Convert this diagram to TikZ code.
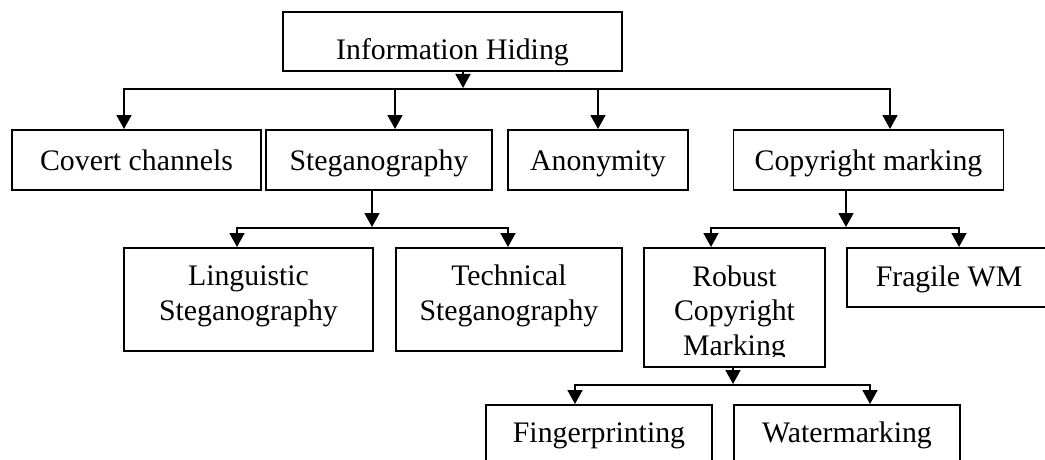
\documentclass[tikz,border=0pt]{standalone}
\usepackage{fontspec}
\setmainfont{Liberation Serif}
\usetikzlibrary{arrows.meta}
\begin{document}
\begin{tikzpicture}[x=1pt,y=-1pt,
  box/.style={draw, line width=1.9pt, inner sep=0pt, outer sep=0pt, rectangle},
  lbl/.style={anchor=base, inner sep=0pt, align=center, font=\fontsize{29.8pt}{34.5pt}\selectfont},
  conn/.style={line width=1.8pt},
  arr/.style={conn, shorten >=1pt, -{Triangle[length=14pt,width=15pt]}}]
\useasboundingbox (0,0) rectangle (1045,460);
\clip (0,0) rectangle (1045,460);
% boxes
\node[box, minimum width=339pt, minimum height=59pt] (info) at (452.5,41.5) {};
\node[box, minimum width=249pt, minimum height=60pt] (cov) at (136.5,160) {};
\node[box, minimum width=226pt, minimum height=60pt] (steg) at (379,160) {};
\node[box, minimum width=180pt, minimum height=60pt] (anon) at (598,160) {};
\node[box, minimum width=270pt, minimum height=60pt] (cop) at (868.5,160) {};
\node[box, minimum width=249pt, minimum height=103pt] (ling) at (248.5,299.5) {};
\node[box, minimum width=226pt, minimum height=103pt] (tech) at (509,299.5) {};
\node[box, minimum width=181pt, minimum height=119pt] (rob) at (734.5,307.5) {};
\node[box, minimum width=204pt, minimum height=59pt] (frag) at (949,277.5) {};
\node[box, minimum width=226pt, minimum height=90pt] (fing) at (599,450) {};
\node[box, minimum width=226pt, minimum height=90pt] (wat) at (847,450) {};
% texts (base anchor = baseline of last line)
\node[lbl] (tinfo) at (452.5,60) {Information Hiding};
\node[lbl] (tcov) at (136.5,170) {Covert channels};
\node[lbl] (tsteg) at (379,170) {Steganography};
\node[lbl] (tanon) at (598,170) {Anonymity};
\node[lbl] (tcop) at (868.5,170) {Copyright marking};
\node[lbl] (tling) at (248.5,320) {Linguistic\\Steganography};
\node[lbl] (ttech) at (509,320) {Technical\\Steganography};
\begin{scope}
  \clip (rob.north west) rectangle (825,356);
  \node[lbl] (trob) at (734.5,355) {Robust\\Copyright\\Marking};
\end{scope}
\node[lbl] (tfrag) at (949,286) {Fragile WM};
\node[lbl] (tfing) at (599,442) {Fingerprinting};
\node[lbl] (twat) at (847,442) {Watermarking};
% bus coordinates
\coordinate (b0) at (463,89);
\coordinate (b1) at (124,89);
\coordinate (b2) at (395,89);
\coordinate (b3) at (598,89);
\coordinate (b4) at (890,89);
\coordinate (s0) at (372,228);
\coordinate (s1) at (237,228);
\coordinate (s2) at (508,228);
\coordinate (c0) at (846,228);
\coordinate (c1) at (711,228);
\coordinate (c2) at (959,228);
\coordinate (r0) at (733,385);
\coordinate (r1) at (575,385);
\coordinate (r2) at (870,385);
% connectors
\draw[arr] (b0 |- info.south) -- (b0);
\draw[arr] (b0) -| (b1 |- cov.north);
\draw[arr] (b0) -| (b4 |- cop.north);
\draw[arr] (b2) -- (b2 |- steg.north);
\draw[arr] (b3) -- (b3 |- anon.north);
\draw[arr] (s0 |- steg.south) -- (s0);
\draw[arr] (s0) -| (s1 |- ling.north);
\draw[arr] (s0) -| (s2 |- tech.north);
\draw[arr] (c0 |- cop.south) -- (c0);
\draw[arr] (c0) -| (c1 |- rob.north);
\draw[arr] (c0) -| (c2 |- frag.north);
\draw[arr] (r0 |- rob.south) -- (r0);
\draw[arr] (r0) -| (r1 |- fing.north);
\draw[arr] (r0) -| (r2 |- wat.north);
\end{tikzpicture}
\end{document}
